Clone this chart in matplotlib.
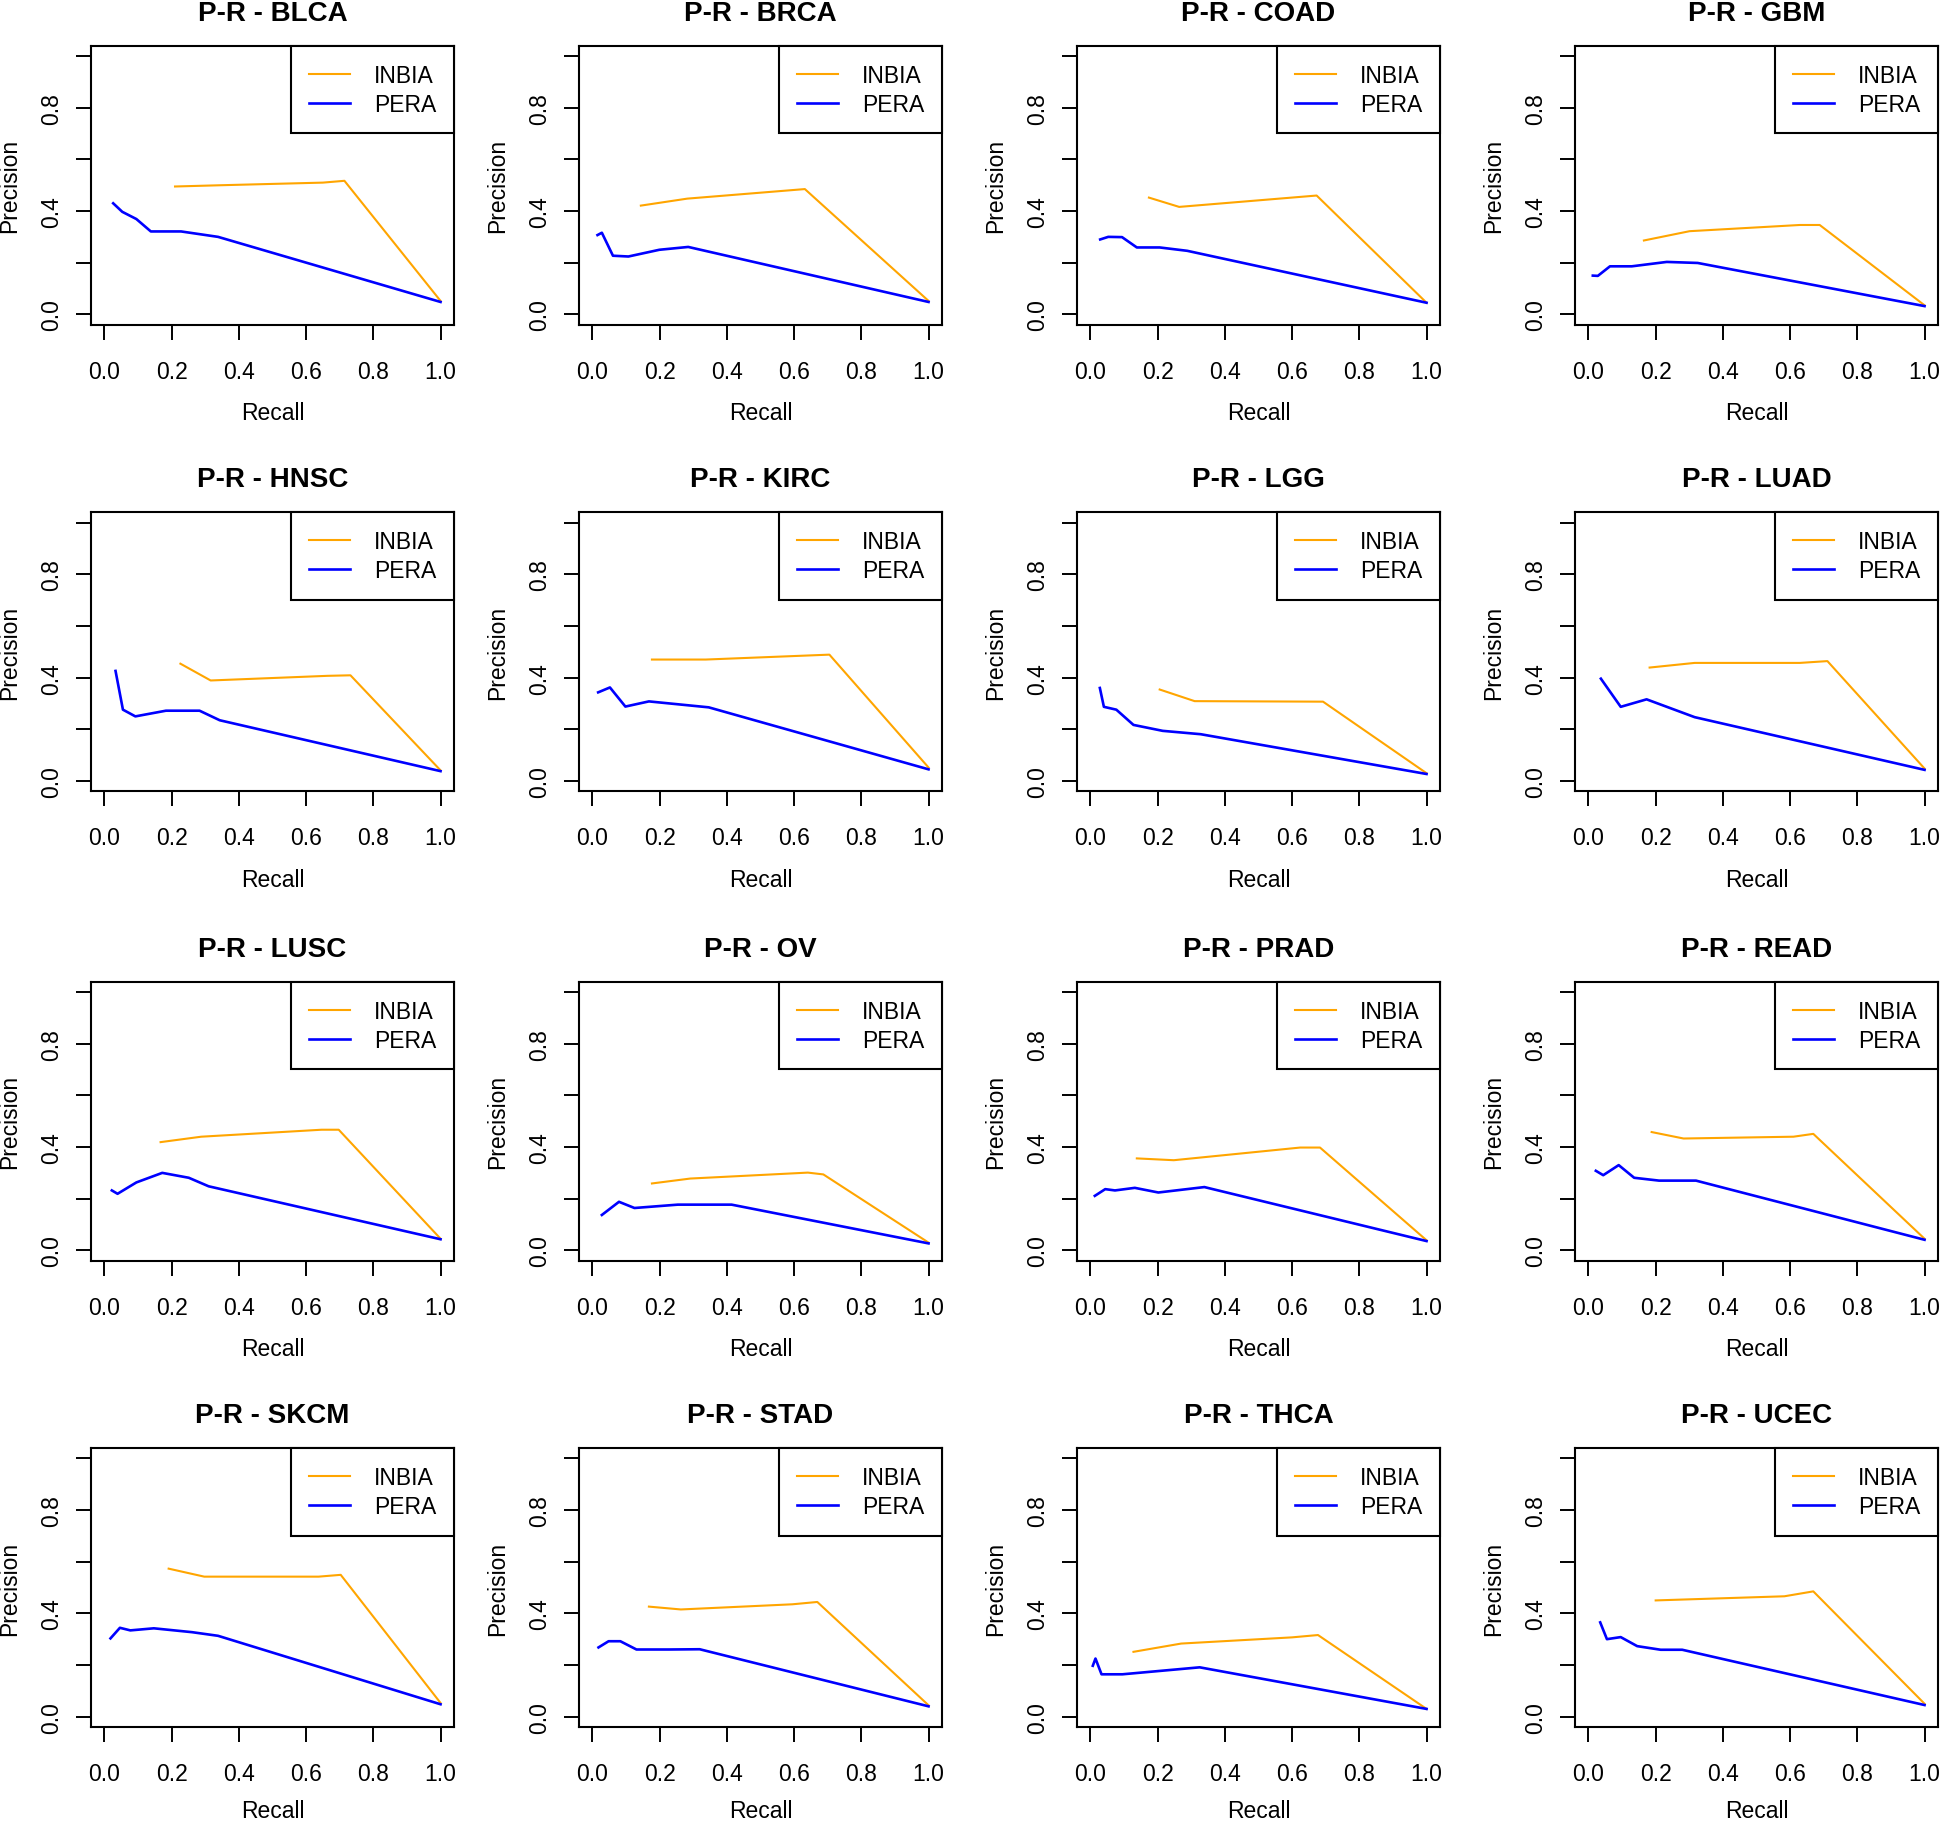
import matplotlib
matplotlib.use("Agg")
import matplotlib.pyplot as plt

plt.rcParams['font.family'] = ['Liberation Sans', 'DejaVu Sans']

cancers = ["BLCA", "BRCA", "COAD", "GBM",
           "HNSC", "KIRC", "LGG", "LUAD",
           "LUSC", "OV", "PRAD", "READ",
           "SKCM", "STAD", "THCA", "UCEC"]

inbia_recall = [
    [0.21, 0.35, 0.65, 0.714, 1.0],
    [0.144, 0.282, 0.632, 1.0],
    [0.174, 0.264, 0.673, 1.0],
    [0.165, 0.301, 0.629, 0.688, 1.0],
    [0.226, 0.316, 0.664, 0.732, 1.0],
    [0.177, 0.337, 0.705, 1.0],
    [0.206, 0.310, 0.692, 1.0],
    [0.182, 0.316, 0.629, 0.711, 1.0],
    [0.167, 0.288, 0.646, 0.697, 1.0],
    [0.177, 0.291, 0.641, 0.687, 1.0],
    [0.138, 0.248, 0.624, 0.683, 1.0],
    [0.188, 0.283, 0.610, 0.669, 1.0],
    [0.191, 0.297, 0.637, 0.703, 1.0],
    [0.168, 0.263, 0.595, 0.669, 1.0],
    [0.128, 0.270, 0.600, 0.677, 1.0],
    [0.200, 0.583, 0.669, 1.0],
]
inbia_precision = [
    [0.495, 0.500, 0.510, 0.517, 0.052],
    [0.421, 0.448, 0.485, 0.052],
    [0.452, 0.416, 0.460, 0.045],
    [0.286, 0.322, 0.346, 0.346, 0.035],
    [0.454, 0.389, 0.407, 0.409, 0.041],
    [0.470, 0.470, 0.489, 0.052],
    [0.354, 0.309, 0.307, 0.030],
    [0.439, 0.457, 0.457, 0.464, 0.048],
    [0.419, 0.440, 0.467, 0.467, 0.045],
    [0.259, 0.278, 0.301, 0.294, 0.030],
    [0.356, 0.349, 0.398, 0.398, 0.039],
    [0.458, 0.433, 0.440, 0.451, 0.045],
    [0.573, 0.542, 0.542, 0.549, 0.053],
    [0.426, 0.415, 0.435, 0.444, 0.044],
    [0.251, 0.283, 0.307, 0.316, 0.030],
    [0.450, 0.466, 0.485, 0.050],
]
pera_recall = [
    [0.026, 0.053, 0.095, 0.138, 0.228, 0.338, 1.0],
    [0.015, 0.028, 0.061, 0.107, 0.199, 0.285, 1.0],
    [0.029, 0.053, 0.094, 0.138, 0.206, 0.288, 1.0],
    [0.013, 0.028, 0.064, 0.129, 0.233, 0.325, 1.0],
    [0.033, 0.055, 0.092, 0.183, 0.283, 0.343, 1.0],
    [0.017, 0.052, 0.098, 0.168, 0.346, 1.0],
    [0.028, 0.040, 0.077, 0.128, 0.215, 0.328, 1.0],
    [0.037, 0.096, 0.173, 0.316, 1.0],
    [0.022, 0.039, 0.095, 0.172, 0.251, 0.310, 1.0],
    [0.028, 0.079, 0.125, 0.254, 0.414, 1.0],
    [0.013, 0.044, 0.073, 0.132, 0.202, 0.339, 1.0],
    [0.022, 0.044, 0.090, 0.136, 0.210, 0.320, 1.0],
    [0.018, 0.046, 0.077, 0.147, 0.261, 0.338, 1.0],
    [0.018, 0.048, 0.083, 0.131, 0.227, 0.319, 1.0],
    [0.007, 0.015, 0.033, 0.095, 0.325, 1.0],
    [0.035, 0.055, 0.096, 0.145, 0.215, 0.279, 1.0],
]
pera_precision = [
    [0.430, 0.397, 0.369, 0.321, 0.321, 0.300, 0.048],
    [0.307, 0.316, 0.227, 0.224, 0.250, 0.261, 0.048],
    [0.290, 0.300, 0.299, 0.259, 0.259, 0.246, 0.045],
    [0.150, 0.149, 0.186, 0.186, 0.203, 0.199, 0.032],
    [0.426, 0.276, 0.250, 0.272, 0.272, 0.235, 0.038],
    [0.343, 0.362, 0.288, 0.308, 0.285, 0.045],
    [0.360, 0.287, 0.276, 0.217, 0.194, 0.181, 0.027],
    [0.396, 0.287, 0.316, 0.247, 0.043],
    [0.232, 0.219, 0.263, 0.300, 0.281, 0.248, 0.043],
    [0.137, 0.188, 0.164, 0.177, 0.177, 0.027],
    [0.211, 0.237, 0.232, 0.242, 0.224, 0.245, 0.036],
    [0.308, 0.291, 0.330, 0.281, 0.270, 0.270, 0.041],
    [0.303, 0.344, 0.334, 0.342, 0.327, 0.313, 0.048],
    [0.268, 0.292, 0.292, 0.260, 0.260, 0.261, 0.040],
    [0.197, 0.225, 0.164, 0.164, 0.191, 0.030],
    [0.365, 0.300, 0.308, 0.273, 0.259, 0.259, 0.045],
]

tick_vals = [0.0, 0.2, 0.4, 0.6, 0.8, 1.0]
x_tick_labels = ["0.0", "0.2", "0.4", "0.6", "0.8", "1.0"]
y_tick_labels = ["0.0", "", "0.4", "", "0.8", ""]

W, H = 1942, 1824
fig = plt.figure(figsize=(W / 100, H / 100), dpi=100)

col_left = [91, 579, 1077, 1575]
row_top = [46.7, 513.3, 982.7, 1449]
ax_w, ax_h = 363, 279
FS = 16.5

for i, name in enumerate(cancers):
    r, c = divmod(i, 4)
    left = col_left[c] / W
    bottom = 1 - (row_top[r] + ax_h) / H
    ax = fig.add_axes([left, bottom, ax_w / W, ax_h / H])
    ax.plot(inbia_recall[i], inbia_precision[i], color="#FFA500", lw=1.5, label="INBIA")
    ax.plot(pera_recall[i], pera_precision[i], color="#0000FF", lw=1.9, label="PERA")
    ax.set_xlim(-0.04, 1.04)
    ax.set_ylim(-0.04, 1.04)
    ax.set_xticks(tick_vals)
    ax.set_xticklabels(x_tick_labels)
    ax.set_yticks(tick_vals)
    ax.set_yticklabels(y_tick_labels, rotation=90, va="center")
    ax.tick_params(axis="both", direction="out", length=10.8, width=1.4,
                   labelsize=FS, color="black")
    ax.tick_params(axis="x", pad=14.5)
    ax.tick_params(axis="y", pad=9)
    for sp in ax.spines.values():
        sp.set_linewidth(1.5)
        sp.set_color("black")
    ax.set_title(f"P-R - {name}", fontsize=20, fontweight="bold", pad=18.7)
    ax.set_xlabel("Recall", fontsize=FS, va="center")
    off = 84 if r == 3 else 88
    ax.xaxis.set_label_coords(0.5, -off / ax_h)
    ax.set_ylabel("Precision", fontsize=FS, va="center")
    ax.yaxis.set_label_coords(-81 / ax_w, 0.5)
    leg = ax.legend(loc="upper right", borderaxespad=0, fancybox=False,
                    framealpha=1, edgecolor="black", fontsize=FS,
                    handlelength=1.8, handletextpad=1.05, borderpad=0.78,
                    labelspacing=0.26)
    leg.get_frame().set_linewidth(1.5)

fig.savefig("out.png", dpi=100)
